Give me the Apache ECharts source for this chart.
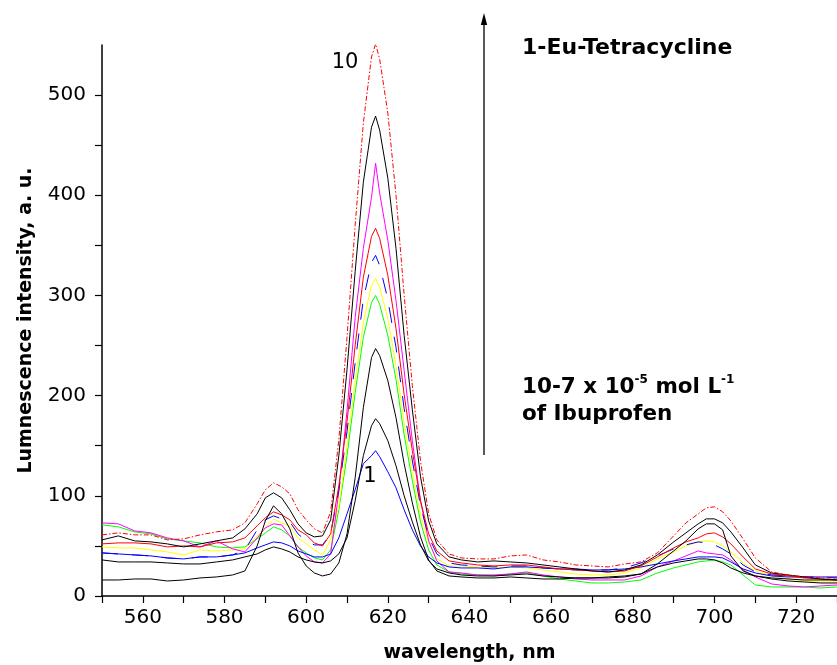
<!DOCTYPE html>
<html><head><meta charset="utf-8">
<script src="https://cdn.jsdelivr.net/npm/echarts@6/dist/echarts.min.js"></script>
<style>html,body{margin:0;padding:0;background:#fff}#c{width:837px;height:665px}</style>
</head><body><div id="c"></div>
<script>
// wavelength (nm)
const wavelengths = [550,554,558,562,566,570,574,578,582,585,588,590,592,594,596,598,600,602,604,606,608,610,612,614,616,617,618,620,622,624,626,628,630,632,635,638,642,646,650,654,658,662,666,670,674,678,682,686,690,693,696,698,700,702,704,707,710,714,718,722,726,730];

// spectra 1..10 (increasing Ibuprofen)
const curve1Blue = [43,42,41,40,38,37,39,39,41, 43,48,51,54,53,50,45,42,39,39, 42,58,82,106,132,140,145,139,124,108,86,66,50,39,33,29, 28,28,27,29,29,28,27,27,26,26,27,29,32,35, 37,39,39,39,38,34,27,23,20,19,19,19,19];
const curve2Black = [36,34,34,34,33,32,32,34,36, 39,42,46,49,47,44,39,36,34,33, 35,42,58,95,140,170,177,172,155,130,100,74,51,35,27,23, 21,20,20,21,22,20,19,18,18,18,19,22,29,33, 35,37,37,36,33,28,23,20,18,17,16,16,16];
const curve3Black = [16,16,17,17,15,16,18,19,21, 25,50,75,90,82,67,43,30,23,20, 22,33,62,118,188,238,247,240,215,178,132,93,59,36,25,20, 19,18,18,19,18,17,17,18,18,19,20,22,32,45, 55,67,72,72,66,40,25,20,17,15,14,13,13];
const curve4Green = [71,69,64,62,57,55,53,49,48, 49,57,63,69,66,60,49,43,38,36, 46,86,140,203,258,293,300,291,260,216,161,115,74,46,31,24, 22,21,20,22,23,20,17,15,13,13,14,16,23,28, 31,34,35,36,34,31,21,11,9,9,9,8,9];
const curve5Yellow = [49,48,48,46,44,41,46,45,46, 47,60,68,77,73,70,58,52,46,41, 56,90,150,215,273,310,317,308,277,230,173,124,81,53,37,30, 30,29,28,29,28,26,24,22,21,21,23,28,37,44, 50,54,55,54,50,44,33,25,20,17,15,14,14];
const curve6BlueDash = [43,42,41,40,38,37,39,39,41, 46,66,76,80,77,74,62,55,51,51, 62,106,164,233,296,333,340,330,296,248,187,135,90,59,42,33, 31,30,29,30,30,28,27,26,26,26,28,33,40,47, 51,54,53,51,47,42,31,24,21,20,19,19,18];
const curve7Red = [52,53,53,52,49,50,49,53,54, 58,70,78,84,81,76,66,61,53,50, 62,110,174,250,318,359,367,357,320,267,201,145,95,62,45,35, 33,31,30,31,31,29,27,26,25,24,25,30,39,48, 54,58,62,63,59,52,39,27,22,20,18,17,16];
const curve8Magenta = [73,72,65,63,58,55,49,55,47, 44,58,68,72,71,60,49,40,34,33, 42,104,185,278,347,398,432,402,355,295,225,155,95,55,35,24, 23,21,21,22,24,21,19,17,16,16,16,20,29,35, 40,45,43,42,41,36,26,19,12,10,9,10,11];
const curve9Black = [56,60,55,54,52,49,52,55,58, 67,82,98,103,98,86,72,63,59,60, 76,140,226,324,413,468,479,465,417,347,260,186,119,75,52,39, 36,34,35,34,33,31,29,27,25,24,26,31,41,54, 63,72,77,77,73,64,48,31,23,21,19,17,16];
const curve10RedDashDot = [61,63,61,61,56,57,61,64,66, 73,92,106,113,109,102,86,76,67,63, 84,156,258,370,472,538,551,536,482,400,300,210,135,82,56,42, 38,37,37,40,41,36,34,31,30,29,32,34,43,60, 73,82,88,89,84,75,57,38,24,21,19,18,18];

const xTicks = [550,560,570,580,590,600,610,620,630,640,650,660,670,680,690,700,710,720,730];
const xLabels = [560,580,600,620,640,660,680,700,720];
const yTicks = [0,50,100,150,200,250,300,350,400,450,500];
const yLabels = [0,100,200,300,400,500];

const FONT = 'DejaVu Sans';
const toPts = arr => wavelengths.map((w, i) => [w, arr[i]]);
function line(name, arr, color, type) {
  return {
    name, type: 'line', data: toPts(arr), showSymbol: false, symbol: 'none',
    lineStyle: { color, width: 1, type: type || 'solid' }, silent: true
  };
}

const chart = echarts.init(document.getElementById('c'), null, { renderer: 'canvas' });
chart.setOption({
  animation: false,
  backgroundColor: '#fff',
  grid: { left: 102, right: 0, top: 45, bottom: 69, containLabel: false, outerBoundsMode: 'none' },
  xAxis: {
    type: 'value', min: 550, max: 730, interval: 10,
    name: 'wavelength, nm', nameLocation: 'middle', nameGap: 48,
    nameTextStyle: { fontFamily: FONT, fontWeight: 'bold', fontSize: 19, color: '#000' },
    axisLine: { show: true, lineStyle: { color: '#000', width: 1.5 } },
    axisTick: { show: true, inside: false, length: 7, lineStyle: { color: '#000', width: 1.2 }, customValues: xTicks },
    axisLabel: { show: true, margin: 12, fontFamily: FONT, fontSize: 20, color: '#000', customValues: xLabels },
    splitLine: { show: false }
  },
  yAxis: {
    type: 'value', min: 0, max: 550, interval: 50,
    name: 'Lumnescence intensity, a. u.', nameLocation: 'middle', nameRotate: 90, nameGap: 66,
    nameTextStyle: { fontFamily: FONT, fontWeight: 'bold', fontSize: 19, color: '#000' },
    axisLine: { show: true, lineStyle: { color: '#000', width: 1.5 } },
    axisTick: { show: true, inside: false, length: 7, lineStyle: { color: '#000', width: 1.2 }, customValues: yTicks },
    axisLabel: { show: true, margin: 16, fontFamily: FONT, fontSize: 20, color: '#000', customValues: yLabels },
    splitLine: { show: false }
  },
  series: [
    line('4', curve4Green, '#00ff00'),
    line('5', curve5Yellow, '#ffff00'),
    line('8', curve8Magenta, '#ff00ff'),
    line('1', curve1Blue, '#0000ff'),
    line('6', curve6BlueDash, '#0000ff', [16, 14]),
    line('7', curve7Red, '#ff0000'),
    line('2', curve2Black, '#000000'),
    line('3', curve3Black, '#000000'),
    line('9', curve9Black, '#000000'),
    line('10', curve10RedDashDot, '#ff0000', [5, 2, 1.5, 2])
  ],
  graphic: [
    { type: 'text', x: 345, y: 63, style: { text: '10', fontFamily: FONT, fontSize: 21, fill: '#000', align: 'center', verticalAlign: 'middle' } },
    { type: 'text', x: 370, y: 477, style: { text: '1', fontFamily: FONT, fontSize: 21, fill: '#000', align: 'center', verticalAlign: 'middle' } },
    { type: 'line', shape: { x1: 484, y1: 455, x2: 484, y2: 22 }, style: { stroke: '#000', lineWidth: 1.3 } },
    { type: 'polygon', shape: { points: [[484, 13], [480.8, 25], [487.2, 25]] }, style: { fill: '#000' } },
    { type: 'text', x: 522, y: 48, style: { text: '1-Eu-Tetracycline', fontFamily: FONT, fontWeight: 'bold', fontSize: 22, fill: '#000', align: 'left', verticalAlign: 'middle' } },
    { type: 'text', x: 522, y: 374, style: {
        text: '{a|10-7 x 10}{s|-5}{a| mol L}{s|-1}\n{a|of Ibuprofen}',
        align: 'left', verticalAlign: 'top', fill: '#000',
        rich: {
          a: { fontFamily: FONT, fontWeight: 'bold', fontSize: 21.5, lineHeight: 27, fill: '#000' },
          s: { fontFamily: FONT, fontWeight: 'bold', fontSize: 12, lineHeight: 20, verticalAlign: 'top', fill: '#000' }
        }
      } }
  ]
});
</script>
</body></html>
